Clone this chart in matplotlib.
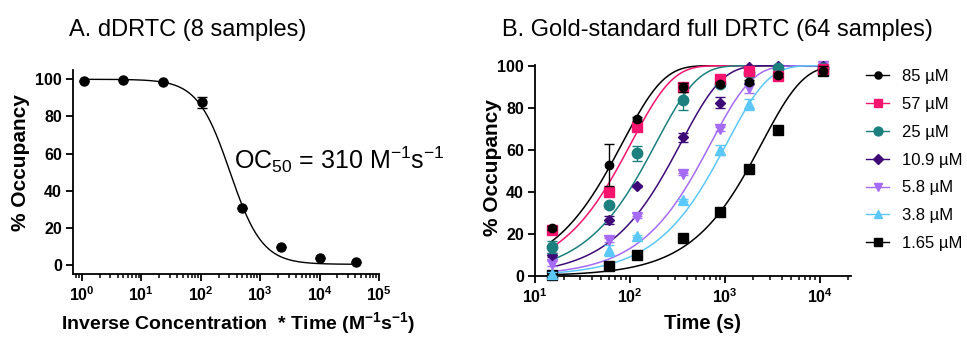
#!/usr/bin/env python
# -*- coding: utf-8 -*-

"""
Occupancy curves: dDRTC (8 samples) vs gold-standard full DRTC (64 samples).
"""

# Third party modules.
import matplotlib
matplotlib.use("Agg")
import matplotlib.pyplot as plt
import numpy as np
from matplotlib.ticker import LogLocator, FuncFormatter, NullFormatter

# Globals and constants variables.
plt.rcParams['font.family'] = ['Liberation Sans', 'DejaVu Sans']
plt.rcParams['mathtext.fontset'] = 'custom'
plt.rcParams['mathtext.rm'] = 'Liberation Sans'
plt.rcParams['mathtext.it'] = 'Liberation Sans:italic'
plt.rcParams['mathtext.bf'] = 'Liberation Sans:bold'

# Panel A data
ddrtc_x = [1.1, 4.9, 23, 103, 490, 2200, 10000, 41000]
ddrtc_y = [99.3, 99.6, 98.7, 87.6, 31.0, 9.7, 3.8, 1.6]
ddrtc_err = [0, 0, 0, 3.0, 0, 0, 0, 0]
oc50 = 310.0
hill_slope = 1.6
fit_top = 100.0
fit_bottom = 0.5

# Panel B data
time_s = [15, 60, 120, 360, 900, 1800, 3600, 10800]
conc_labels = ["85 µM", "57 µM", "25 µM", "10.9 µM", "5.8 µM", "3.8 µM", "1.65 µM"]
occ_85 = [23.0, 52.7, 74.6, 89.7, 91.1, 92.1, 95.6, 97.6]
occ_57 = [21.7, 40.0, 70.6, 90.0, 93.8, 97.5, 95.0, 98.3]
occ_25 = [13.8, 33.8, 58.3, 83.7, 91.5, 96.7, 99.0, 99.0]
occ_10_9 = [9.8, 26.5, 42.9, 65.9, 82.4, 99.5, 100.0, 100.0]
occ_5_8 = [5.9, 17.0, 28.0, 48.3, 69.7, 89.2, 98.0, 100.0]
occ_3_8 = [1.1, 12.2, 19.0, 36.0, 59.8, 81.6, 96.3, 99.8]
occ_1_65 = [0.3, 4.8, 10.2, 18.3, 30.2, 51.1, 69.2, 97.6]
err_85 = [1.0, 10.0, 1.0, 2.0, 1.0, 1.0, 1.0, 2.0]
err_57 = [1.0, 1.0, 1.0, 1.0, 1.0, 1.0, 1.0, 1.0]
err_25 = [3.0, 1.0, 3.5, 5.0, 1.0, 1.0, 1.0, 1.0]
err_10_9 = [1.0, 2.0, 0.5, 2.0, 2.5, 0.5, 0.5, 0.5]
err_5_8 = [1.0, 1.0, 0.5, 0.5, 1.0, 2.0, 0.5, 0.5]
err_3_8 = [1.0, 2.5, 0.5, 0.5, 2.5, 2.5, 0.5, 0.5]
err_1_65 = [0.5, 0.5, 0.5, 0.5, 0.5, 0.5, 0.5, 1.5]
# observed association rate (1/s) of each one-phase fit
rate_k = [0.0120, 0.0097, 0.0053, 0.0029, 0.0014, 0.00095, 0.000406]

series_colors = ["#000000", "#F5146E", "#1B807E", "#3D0A78", "#A56BF5", "#5CC8F7", "#000000"]
series_markers = ["o", "s", "o", "D", "v", "^", "s"]
series_ms = [6, 7, 7.5, 5.5, 7.5, 7.5, 7]


def _style_axes(ax):
    for side in ("top", "right"):
        ax.spines[side].set_visible(False)
    for side in ("left", "bottom"):
        ax.spines[side].set_linewidth(1.3)
    ax.tick_params(which="major", direction="out", length=5, width=1.3,
                   labelsize=11.5, pad=3)
    ax.tick_params(which="minor", direction="out", length=3, width=1.1)
    for lab in ax.get_yticklabels():
        lab.set_fontweight("bold")
    ax.xaxis.set_major_locator(LogLocator(base=10, numticks=12))
    ax.xaxis.set_minor_locator(LogLocator(base=10, subs=np.arange(2, 10), numticks=12))
    ax.xaxis.set_minor_formatter(NullFormatter())
    ax.xaxis.set_major_formatter(FuncFormatter(
        lambda v, pos: r"$\mathbf{10^{%d}}$" % round(np.log10(v))))


def plot_panels():
    fig = plt.figure(figsize=(9.67, 3.37), dpi=100)

    # Panel A
    ax1 = fig.add_axes([73 / 967, 1 - 274 / 337, 306 / 967, 204 / 337])
    ax1.set_xscale("log")
    xf = np.logspace(np.log10(ddrtc_x[0]), np.log10(ddrtc_x[-1]), 300)
    yf = fit_bottom + (fit_top - fit_bottom) / (1 + (xf / oc50) ** hill_slope)
    ax1.plot(xf, yf, color="black", lw=1.0)
    ax1.errorbar(ddrtc_x, ddrtc_y, yerr=ddrtc_err, fmt="o", color="black",
                 ms=6.5, capsize=3.5, elinewidth=1.0, capthick=1.0, clip_on=False)
    ax1.set_xlim(10 ** -0.15, 1e5)
    ax1.set_ylim(-4.7, 105)
    ax1.set_yticks([0, 20, 40, 60, 80, 100])
    _style_axes(ax1)

    # Panel B
    ax2 = fig.add_axes([535 / 967, 1 - 276 / 337, 316 / 967, 211 / 337])
    ax2.set_xscale("log")
    occ = [occ_85, occ_57, occ_25, occ_10_9, occ_5_8, occ_3_8, occ_1_65]
    errs = [err_85, err_57, err_25, err_10_9, err_5_8, err_3_8, err_1_65]
    tf = np.logspace(np.log10(time_s[0]), np.log10(time_s[-1]), 300)
    handles = []
    n = len(occ)
    for i in range(n):
        z = 3 + (n - i)
        ax2.plot(tf, 100 * (1 - np.exp(-rate_k[i] * tf)), color=series_colors[i],
                 lw=1.1, zorder=2)
        ax2.errorbar(time_s, occ[i], yerr=errs[i], fmt=series_markers[i],
                     color=series_colors[i], ms=series_ms[i], capsize=3.5,
                     elinewidth=1.0, capthick=1.0, clip_on=False, zorder=z)
        h, = ax2.plot([], [], color=series_colors[i], marker=series_markers[i],
                      ms=series_ms[i] * 0.85, lw=1.0)
        handles.append(h)
    ax2.set_xlim(10, 10 ** 4.33)
    ax2.set_ylim(0, 100.3)
    ax2.set_yticks([0, 20, 40, 60, 80, 100])
    _style_axes(ax2)

    fig.legend(handles, conc_labels, loc="upper left",
               bbox_to_anchor=(866 / 967, 1 - 69 / 337), frameon=False,
               fontsize=12, handlelength=1.4, handletextpad=0.75,
               labelspacing=0.77, borderpad=0, borderaxespad=0)

    # Titles and labels
    fig.text(69 / 967, 1 - 36 / 337, "A. dDRTC (8 samples)", fontsize=17,
             va="baseline", ha="left")
    fig.text(502 / 967, 1 - 36 / 337, "B. Gold-standard full DRTC (64 samples)",
             fontsize=17, va="baseline", ha="left")
    fig.text(234 / 967, 1 - 169 / 337, r"OC$_{50}$ = 310 M$^{-1}$s$^{-1}$",
             fontsize=18, va="baseline", ha="left")
    fig.text(21 / 967, 1 - 163 / 337, "% Occupancy", fontsize=15,
             fontweight="bold", rotation=90, ha="center", va="center")
    fig.text(493 / 967, 1 - 168 / 337, "% Occupancy", fontsize=15,
             fontweight="bold", rotation=90, ha="center", va="center")
    fig.text(238 / 967, 1 - 329 / 337,
             r"Inverse Concentration  * Time (M$^{\mathbf{-1}}$s$^{\mathbf{-1}}$)",
             fontsize=14, fontweight="bold", ha="center", va="baseline")
    fig.text(702 / 967, 1 - 329 / 337, "Time (s)", fontsize=14.5,
             fontweight="bold", ha="center", va="baseline")

    fig.savefig("out.png", dpi=100)


if __name__ == '__main__':
    plot_panels()
